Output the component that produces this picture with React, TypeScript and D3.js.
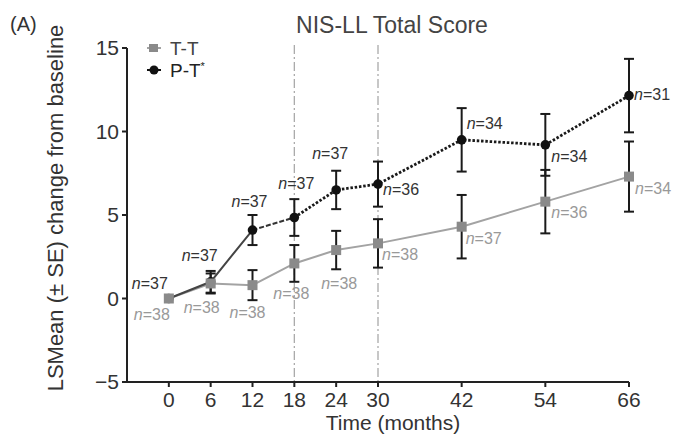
import React from 'react';
import * as d3 from 'd3';

// time points (months)
const months = [0, 6, 12, 18, 24, 30, 42, 54, 66];

// T-T arm
const ttMean = [0, 0.9, 0.8, 2.1, 2.9, 3.3, 4.3, 5.8, 7.3];
const ttSE = [0, 0.6, 0.9, 1.1, 1.15, 1.45, 1.9, 1.9, 2.1];
const ttN = [38, 38, 38, 38, 38, 38, 37, 36, 34];

// P-T arm
const ptMean = [0, 1.0, 4.1, 4.85, 6.5, 6.85, 9.5, 9.2, 12.15];
const ptSE = [0, 0.65, 0.9, 1.1, 1.15, 1.35, 1.9, 1.85, 2.2];
const ptN = [37, 37, 37, 37, 37, 36, 34, 34, 31];

const yTicks = [-5, 0, 5, 10, 15];
const xTicks = [0, 6, 12, 18, 24, 30, 42, 54, 66];
const switchMonths = [18, 30];

// label placement (offsets from point, px) and anchor
const ptLabelPos: [number, number, string][] = [
  [-1, -10, 'end'], [-11, -21, 'middle'], [-3, -23, 'middle'], [2, -29, 'middle'],
  [-6, -31, 'middle'], [5, 11, 'start'], [5, -11, 'start'], [6, 17, 'start'], [5, 4, 'start'],
];
const ttLabelPos: [number, number, string][] = [
  [1, 21, 'end'], [-9, 30, 'middle'], [-5, 33, 'middle'], [-3, 36, 'middle'],
  [3, 39, 'middle'], [4, 17, 'start'], [4, 17, 'start'], [6, 16, 'start'], [6, 17, 'start'],
];

const W = 677;
const H = 436;
const FONT = 'Liberation Sans, Arial, sans-serif';

export default function App() {
  const x = d3.scaleLinear().domain([-6, 66]).range([127, 629]);
  const y = d3.scaleLinear().domain([-5, 15]).range([382, 48]);

  const line = d3.line<number>()
    .x((_, i) => x(months[i]))
    .y(d => y(d));

  const ptIdx = months.map((_, i) => i);
  const ptLine = d3.line<number>().x(i => x(months[i])).y(i => y(ptMean[i]));

  const errBar = (m: number, mean: number, se: number, key: string) => {
    if (se <= 0) return null;
    const cx = x(m);
    const y1 = y(mean + se);
    const y2 = y(mean - se);
    return (
      <g key={key} stroke="#1a1a1a" strokeWidth={2}>
        <line x1={cx} x2={cx} y1={y1} y2={y2} />
        <line x1={cx - 5} x2={cx + 5} y1={y1} y2={y1} />
        <line x1={cx - 5} x2={cx + 5} y1={y2} y2={y2} />
      </g>
    );
  };

  const nLabel = (m: number, v: number, n: number, pos: [number, number, string], color: string, key: string) => (
    <text key={key} x={x(m) + pos[0]} y={y(v) + pos[1]} textAnchor={pos[2] as any}
      fontSize={16} fill={color} fontFamily={FONT}>
      <tspan fontStyle="italic">n</tspan>={n}
    </text>
  );

  return (
    <svg width={W} height={H} style={{ position: 'absolute', left: 0, top: 0, background: '#fff' }}>
      {/* panel letter and title */}
      <text x={10} y={31} fontSize={20} fill="#333" fontFamily={FONT}>(A)</text>
      <text x={392} y={33} fontSize={23} fill="#444" textAnchor="middle" fontFamily={FONT}>NIS-LL Total Score</text>

      {/* switch reference lines */}
      {switchMonths.map(m => (
        <line key={'v' + m} x1={x(m)} x2={x(m)} y1={45} y2={y(-5)}
          stroke="#aaa" strokeWidth={1.3} strokeDasharray="9,3,2,3" />
      ))}

      {/* y axis */}
      <line x1={x(-6)} x2={x(-6)} y1={y(15)} y2={y(-5)} stroke="#222" strokeWidth={2} />
      {yTicks.map(t => (
        <g key={'y' + t}>
          <line x1={x(-6) - 5} x2={x(-6)} y1={y(t)} y2={y(t)} stroke="#222" strokeWidth={2} />
          <text x={x(-6) - 8} y={y(t) + 7} fontSize={21} textAnchor="end" fill="#333" fontFamily={FONT}>
            {t < 0 ? '\u2212' + Math.abs(t) : t}
          </text>
        </g>
      ))}
      <text transform={`translate(63,${208}) rotate(-90)`} fontSize={22} textAnchor="middle" fill="#333" fontFamily={FONT}>
        LSMean (± SE) change from baseline
      </text>

      {/* x axis */}
      <line x1={x(-6)} x2={x(66)} y1={y(-5)} y2={y(-5)} stroke="#222" strokeWidth={2} />
      {xTicks.map(t => (
        <g key={'x' + t}>
          <line x1={x(t)} x2={x(t)} y1={y(-5)} y2={y(-5) + 5} stroke="#222" strokeWidth={2} />
          <text x={x(t)} y={407} fontSize={21} textAnchor="middle" fill="#333" fontFamily={FONT}>{t}</text>
        </g>
      ))}
      <text x={393} y={430} fontSize={21} textAnchor="middle" fill="#333" fontFamily={FONT}>Time (months)</text>

      {/* T-T line */}
      <path d={line(ttMean) || ''} fill="none" stroke="#a3a3a3" strokeWidth={2} />

      {/* P-T line: solid to 12 mo, dashed to 18, dotted after */}
      <path d={ptLine(ptIdx.slice(0, 3)) || ''} fill="none" stroke="#444" strokeWidth={2} />
      <path d={ptLine(ptIdx.slice(2, 4)) || ''} fill="none" stroke="#333" strokeWidth={2} strokeDasharray="5,2" />
      <path d={ptLine(ptIdx.slice(3)) || ''} fill="none" stroke="#1a1a1a" strokeWidth={2.8} strokeDasharray="2.5,1.8" />

      {/* error bars */}
      {months.map((m, i) => errBar(m, ttMean[i], ttSE[i], 'te' + i))}
      {months.map((m, i) => errBar(m, ptMean[i], ptSE[i], 'pe' + i))}

      {/* markers */}
      {months.map((m, i) => (
        <circle key={'pc' + i} cx={x(m)} cy={y(ptMean[i])} r={4.8} fill="#111" />
      ))}
      {months.map((m, i) => (
        <rect key={'ts' + i} x={x(m) - 5} y={y(ttMean[i]) - 5} width={10} height={10} fill="#8a8a8a" />
      ))}

      {/* n labels */}
      {months.map((m, i) => nLabel(m, ptMean[i], ptN[i], ptLabelPos[i], '#333', 'pn' + i))}
      {months.map((m, i) => nLabel(m, ttMean[i], ttN[i], ttLabelPos[i], '#999', 'tn' + i))}

      {/* legend */}
      <line x1={147} x2={161} y1={48} y2={48} stroke="#a3a3a3" strokeWidth={2} />
      <rect x={149} y={44} width={9} height={8} fill="#8a8a8a" />
      <text x={170} y={55} fontSize={19} fill="#444" fontFamily={FONT}>T-T</text>
      <line x1={147} x2={161} y1={70} y2={70} stroke="#111" strokeWidth={2} />
      <circle cx={154} cy={70} r={4.5} fill="#111" />
      <text x={170} y={77} fontSize={19} fill="#222" fontFamily={FONT}>P-T<tspan fontSize={11} dy={-7}>*</tspan></text>
    </svg>
  );
}
